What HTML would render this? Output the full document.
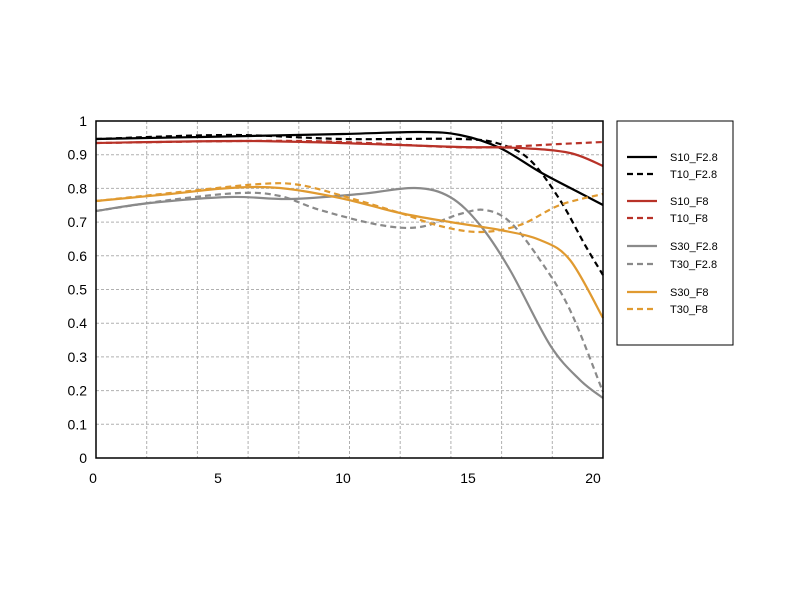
<!DOCTYPE html>
<html><head><meta charset="utf-8"><style>
body{margin:0;background:#fff;}
text{font-family:"Liberation Sans","DejaVu Sans",sans-serif;}
</style></head><body>
<svg id="s" width="800" height="600" xmlns="http://www.w3.org/2000/svg">
<rect width="800" height="600" fill="#fff"/>
<g id="grid" stroke="#b0b0b0" stroke-width="1" stroke-dasharray="3,2"></g>
<g id="curves" fill="none" stroke-width="2.2"></g>
<rect x="96" y="121" width="507" height="337" fill="none" stroke="#000" stroke-width="1.5"/>
<g font-size="14" fill="#000" id="labels"></g>
<rect x="617" y="121" width="116" height="224" fill="#fff" stroke="#000" stroke-width="1"/>
<g id="leg" font-size="11" fill="#000"></g>
</svg>
<script>
var NS="http://www.w3.org/2000/svg";
function el(p,t,a,txt){var e=document.createElementNS(NS,t);for(var k in a)e.setAttribute(k,a[k]);if(txt!=null)e.textContent=txt;document.getElementById(p).appendChild(e);}
for(var i=1;i<10;i++){var x=96+i*50.7;el("grid","line",{x1:x,x2:x,y1:121,y2:458});}
for(var i=1;i<10;i++){var y=458-i*33.7;el("grid","line",{x1:96,x2:603,y1:y,y2:y});}
var yl=["0","0.1","0.2","0.3","0.4","0.5","0.6","0.7","0.8","0.9","1"];
for(var i=0;i<=10;i++)el("labels","text",{x:87,y:458-i*33.7+5,"text-anchor":"end"},yl[i]);
var xl=[[93,"0"],[218,"5"],[343,"10"],[468,"15"],[593,"20"]];
xl.forEach(function(a){el("labels","text",{x:a[0],y:483,"text-anchor":"middle"},a[1]);});
function path(p){var d="M"+p[0][0]+","+p[0][1];for(var i=0;i<p.length-1;i++){var p0=p[i-1]||p[i],p1=p[i],p2=p[i+1],p3=p[i+2]||p2;
d+=" C"+(p1[0]+(p2[0]-p0[0])/6)+","+(p1[1]+(p2[1]-p0[1])/6)+" "+(p2[0]-(p3[0]-p1[0])/6)+","+(p2[1]-(p3[1]-p1[1])/6)+" "+p2[0]+","+p2[1];}return d;}
var K="#000",R="#b83228",G="#8a8a8a",O="#e09a30";
var S=[
[K,0,[[96,139],[200,137],[343,134],[420,132],[460,135],[500,148],[540,172],[580,193],[603,205]]],
[K,1,[[96,139],[230,135],[343,139],[460,139],[500,144],[530,160],[560,200],[585,245],[603,275]]],
[R,0,[[96,143],[250,141],[400,145],[460,147],[520,148],[570,153],[603,166]]],
[R,1,[[96,143],[300,141],[450,147],[500,147],[560,144],[603,142]]],
[G,0,[[96,211],[150,203],[230,197],[290,199],[360,194],[415,188],[450,197],[480,225],[510,270],[550,345],[580,380],[603,398]]],
[G,1,[[96,211],[170,200],[240,193],[280,196],[320,210],[380,225],[420,227],[460,214],[485,210],[510,222],[540,260],[570,310],[603,392]]],
[O,0,[[96,201],[170,194],[230,188],[280,188],[340,198],[400,213],[450,222],[500,230],[540,240],[570,260],[603,318]]],
[O,1,[[96,201],[180,192],[260,184],[300,185],[350,198],[400,213],[440,226],[480,232],[520,225],[560,205],[603,194]]]];
S.forEach(function(s){var a={d:path(s[2]),stroke:s[0]};if(s[1])a["stroke-dasharray"]="6,4";el("curves","path",a);});
var L=[["S10_F2.8",157],["T10_F2.8",174],["S10_F8",201],["T10_F8",218],["S30_F2.8",246],["T30_F2.8",264],["S30_F8",292],["T30_F8",309]];
L.forEach(function(l,i){var a={x1:627,x2:657,y1:l[1],y2:l[1],stroke:S[i][0],"stroke-width":2.2};if(i%2)a["stroke-dasharray"]="6,4";el("leg","line",a);el("leg","text",{x:670,y:l[1]+4},l[0]);});
</script>
</body></html>
